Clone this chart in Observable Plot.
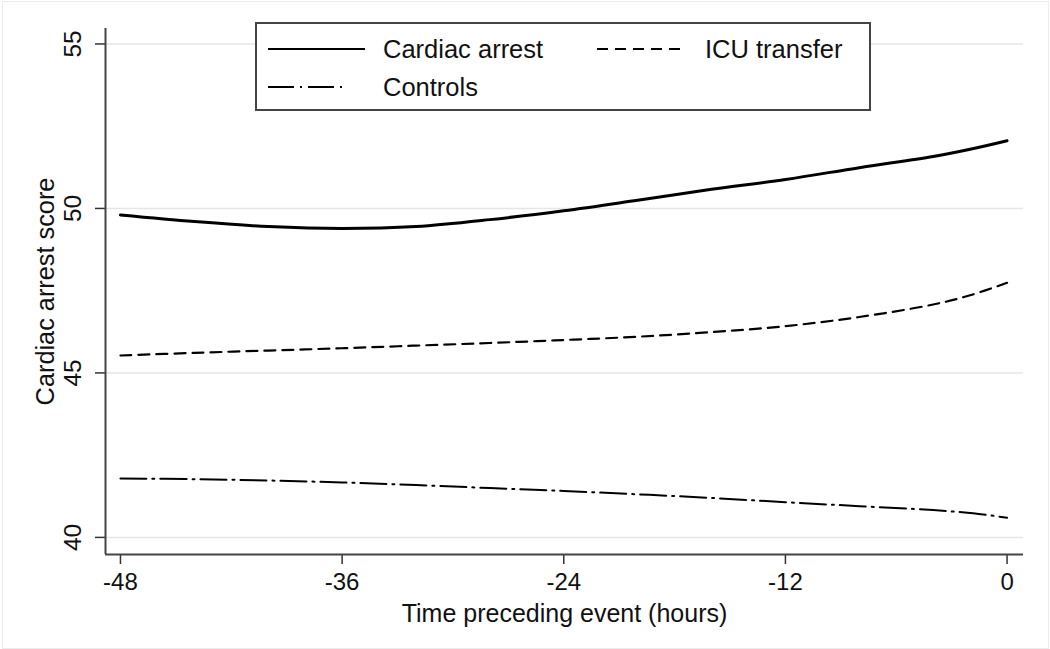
<!DOCTYPE html>
<html><head><meta charset="utf-8">
<script src="https://cdn.jsdelivr.net/npm/d3@7"></script>
<script src="https://cdn.jsdelivr.net/npm/@observablehq/plot@0.6"></script>
<style>
body{margin:0;background:#fff;}
#wrap{position:relative;width:1050px;height:649px;}
#border{position:absolute;left:2px;top:1px;width:1045px;height:646px;border:1px solid #ececec;pointer-events:none;}
</style></head><body>
<div id="wrap"><div id="chart"></div><div id="border"></div></div>
<script>
const hours = [-48,-44,-40,-36,-32,-28,-24,-20,-16,-12,-8,-4,-2,0];
const cardiacArrest = [49.80,49.60,49.45,49.39,49.45,49.66,49.93,50.25,50.58,50.88,51.24,51.58,51.80,52.06];
const icuTransfer  = [45.53,45.61,45.68,45.75,45.83,45.91,46.00,46.10,46.24,46.42,46.70,47.08,47.36,47.74];
const controls     = [41.79,41.77,41.73,41.67,41.59,41.50,41.41,41.31,41.20,41.07,40.95,40.83,40.74,40.60];
const seriesNames = ["Cardiac arrest","ICU transfer","Controls"];
const xTicks = [-48,-36,-24,-12,0];
const yTicks = [40,45,50,55];

const styles = {
  "Cardiac arrest": {w:3, dash:null},
  "ICU transfer": {w:2.2, dash:"11,7"},
  "Controls": {w:2, dash:"26,6,2,6"}
};
const valuesBySeries = {"Cardiac arrest":cardiacArrest,"ICU transfer":icuTransfer,"Controls":controls};
const rows = seriesNames.map(s => hours.map((h,i)=>({series:s,hour:h,value:valuesBySeries[s][i]})));

const xDomain = [-48.81, 0.89];
const yDomain = [39.48, 55.47];
const font = "'Liberation Sans', Arial, Helvetica, sans-serif";

const lineMarks = rows.map(r => {
  const st = styles[r[0].series];
  return Plot.line(r, {x:"hour", y:"value", curve:"catmull-rom", stroke:"#000", strokeWidth:st.w, strokeDasharray:st.dash});
});

const chart = Plot.plot({
  width:1050, height:649,
  marginLeft:105, marginRight:27, marginTop:28, marginBottom:95,
  style:{fontFamily:font, fontSize:"24px", background:"transparent", color:"#111"},
  x:{domain:xDomain},
  y:{domain:yDomain},
  marks:[
    Plot.gridY(yTicks, {stroke:"#e6e6e6", strokeOpacity:1, strokeWidth:1.5}),
    Plot.axisY(yTicks, {tickSize:10, tickFormat:()=>"", stroke:"#333", strokeWidth:1.5, label:null}),
    Plot.text(yTicks, {y:d=>d, frameAnchor:"left", text:d=>String(d), rotate:-90, dx:-32, fontSize:24.5, textAnchor:"middle", lineAnchor:"middle"}),
    Plot.axisX(xTicks, {tickSize:10, tickPadding:8, fontSize:24, tickFormat:d=>String(d), stroke:"#333", strokeWidth:1.5, label:null}),
    Plot.ruleX([xDomain[0]], {stroke:"#444", strokeWidth:2}),
    Plot.ruleY([yDomain[0]], {stroke:"#444", strokeWidth:2}),
    Plot.text(["Time preceding event (hours)"], {frameAnchor:"bottom", dy:59, fontSize:25, lineAnchor:"middle"}),
    Plot.text(["Cardiac arrest score"], {frameAnchor:"left", dx:-60, rotate:-90, fontSize:25.3, textAnchor:"middle", lineAnchor:"middle"}),
    ...lineMarks
  ]
});
document.getElementById("chart").appendChild(chart);

// legend
const svg = d3.select(chart);
const lg = svg.append("g").attr("font-family", font).attr("font-size", 25.5).attr("fill","#111").attr("text-anchor","start");
lg.append("rect").attr("x",256).attr("y",23).attr("width",614).attr("height",87)
  .attr("fill","#fff").attr("stroke","#444").attr("stroke-width",2);
const legendItems = [
  {name:"Cardiac arrest", x1:268, x2:365, tx:383, y:49},
  {name:"ICU transfer", x1:597, x2:685, tx:705, y:49},
  {name:"Controls", x1:268, x2:345, tx:383, y:87}
];
legendItems.forEach(it => {
  const st = styles[it.name];
  lg.append("line").attr("x1",it.x1).attr("x2",it.x2).attr("y1",it.y).attr("y2",it.y)
    .attr("stroke","#000").attr("stroke-width",Math.min(st.w,2.2)).attr("stroke-dasharray",st.dash);
  lg.append("text").attr("x",it.tx).attr("y",it.y).attr("dy","0.35em").attr("text-anchor","start").text(it.name);
});
</script>
</body></html>
